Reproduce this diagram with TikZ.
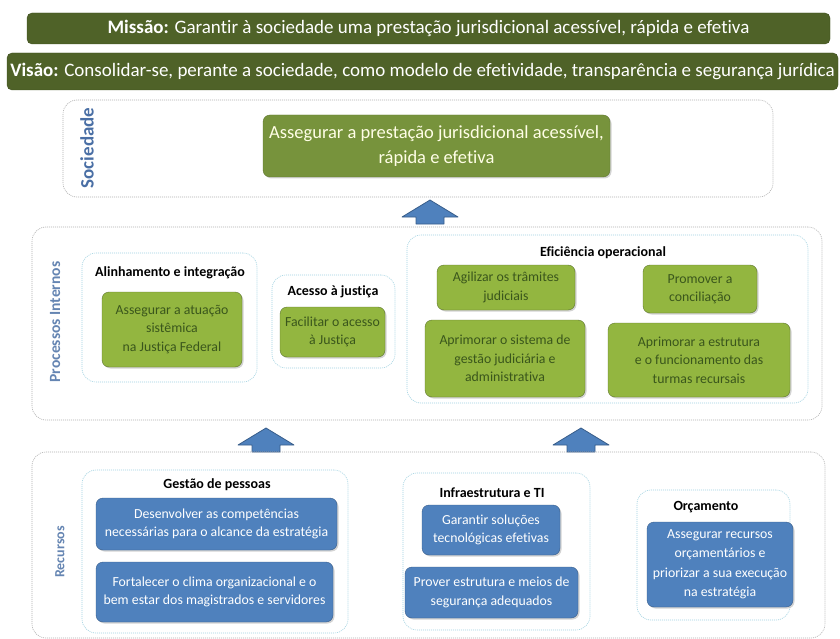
\documentclass[tikz,border=0pt]{standalone}
\usepackage{fontspec}
\setmainfont{Carlito}[Ligatures=NoCommon]
\usetikzlibrary{shadows}
\definecolor{verdeEscuro}{HTML}{4F6228}
\definecolor{verdeMedio}{HTML}{77933C}
\definecolor{verdeClaro}{HTML}{93B640}
\definecolor{textoVerde}{HTML}{3A561C}
\definecolor{azulObj}{HTML}{4F81BD}
\definecolor{azulBorda}{HTML}{385D8A}
\definecolor{azulRotulo}{HTML}{4A6FA5}
\definecolor{cianoGrupo}{HTML}{9CCFDF}
\newcommand{\fonteObj}{\fontsize{13.8}{18.5}\selectfont}
\newcommand{\fonteTitulo}{\fontsize{14}{17}\selectfont\bfseries}
\newcommand{\setaBloco}[3]{\draw[seta] (#2-14,#3+12) coordinate (#1) -- (#2+14,#3+12) -- (#2+14,#3+5) -- (#2+28,#3+5) -- (#2,#3-12) -- (#2-28,#3+5) -- (#2-14,#3+5) -- cycle;}

\begin{document}
\begin{tikzpicture}[x=1pt,y=-1pt]
  \tikzset{banner/.style={fill=verdeEscuro,draw=verdeEscuro!80!black,rounded corners=5pt,text=white,font=\fontsize{19}{22}\selectfont,inner sep=0pt},
    camada/.style={draw=gray!65,dash pattern=on 1pt off 1pt,line width=0.6pt,rounded corners=14pt,inner sep=0pt},
    grupo/.style={draw=cianoGrupo,dash pattern=on 1pt off 1pt,line width=0.6pt,rounded corners=14pt,inner sep=0pt},
    rotulo/.style={rotate=90,text=azulRotulo!85!white,font=\fontsize{15.6}{18}\selectfont\bfseries},
    titulo/.style={font=\fonteTitulo},
    objverde/.style={fill=verdeClaro,draw=verdeMedio!80!black,rounded corners=7pt,text=textoVerde,font=\fonteObj,align=center,inner sep=0pt,drop shadow={opacity=0.35,shadow xshift=1.5pt,shadow yshift=-1.5pt}},
    objazul/.style={fill=azulObj,draw=azulBorda,rounded corners=7pt,text=white,font=\fonteObj,align=center,inner sep=0pt,drop shadow={opacity=0.35,shadow xshift=1.5pt,shadow yshift=-1.5pt}},
    seta/.style={fill=azulObj,draw=azulBorda,line width=0.8pt,line join=round}}
  \useasboundingbox (0,0) rectangle (840,639);

  \node[banner,minimum width=803pt,minimum height=31pt] (missao) at (428.5,28.5) {\textbf{Missão:} Garantir à sociedade uma prestação jurisdicional acessível, rápida e efetiva};
  \node[banner,minimum width=831pt,minimum height=37pt] (visao) at (422.5,71.5) {\textbf{Visão:} Consolidar-se, perante a sociedade, como modelo de efetividade, transparência e segurança jurídica};

  \node[camada,minimum width=710pt,minimum height=97pt] (sociedade) at (418,148.5) {};
  \node[rotulo,text=azulRotulo,font=\fontsize{19}{22}\selectfont\bfseries] (rotSociedade) at (87,148) {Sociedade};
  \node[objverde,fill=verdeMedio,text=white!90!yellow,font=\fontsize{18.5}{25}\selectfont,minimum width=347pt,minimum height=62pt] (objSociedade) at (436.5,146) {Assegurar a prestação jurisdicional acessível,\\rápida e efetiva};

  \setaBloco{seta1}{430}{212}

  \node[camada,minimum width=790pt,minimum height=193pt] (processos) at (427,323.5) {};
  \node[rotulo] (rotProcessos) at (55,322) {Processos Internos};

  \node[grupo,minimum width=175pt,minimum height=129pt] (alinhamento) at (169.5,317.5) {};
  \node[titulo] (titAlinhamento) at (170,273) {Alinhamento e integração};
  \node[objverde,minimum width=140pt,minimum height=75pt] (objAtuacao) at (172,329.5) {Assegurar a atuação\\sistêmica\\na Justiça Federal};

  \node[grupo,minimum width=123pt,minimum height=93pt] (acesso) at (333.5,321.5) {};
  \node[titulo] (titAcesso) at (333,292) {Acesso à justiça};
  \node[objverde,minimum width=105pt,minimum height=50pt] (objAcesso) at (332.5,332) {Facilitar o acesso\\à Justiça};

  \node[grupo,minimum width=401pt,minimum height=168pt] (eficiencia) at (607.5,319) {};
  \node[titulo] (titEficiencia) at (603,253) {Eficiência operacional};
  \node[objverde,minimum width=138pt,minimum height=45pt] (objAgilizar) at (506,287.5) {Agilizar os trâmites\\judiciais};
  \node[objverde,minimum width=114pt,minimum height=48pt] (objPromover) at (700,289) {Promover a\\conciliação};
  \node[objverde,minimum width=160pt,minimum height=77pt] (objSistema) at (505,358.5) {Aprimorar o sistema de\\gestão judiciária e\\administrativa};
  \node[objverde,minimum width=182pt,minimum height=74pt] (objTurmas) at (699,360) {Aprimorar a estrutura\\e o funcionamento das\\turmas recursais};

  \setaBloco{seta2}{266}{440}
  \setaBloco{seta3}{581}{440}

  \node[camada,minimum width=793pt,minimum height=186pt] (recursos) at (428.5,545) {};
  \node[rotulo,font=\fontsize{14}{17}\selectfont\bfseries] (rotRecursos) at (60,552) {Recursos};

  \node[grupo,minimum width=266pt,minimum height=163pt] (gestao) at (215,551.5) {};
  \node[titulo] (titGestao) at (217,485) {Gestão de pessoas};
  \node[objazul,minimum width=241pt,minimum height=52pt] (objCompetencias) at (216.5,524) {Desenvolver as competências\\necessárias para o alcance da estratégia};
  \node[objazul,minimum width=237pt,minimum height=60pt] (objClima) at (214.5,592) {Fortalecer o clima organizacional e o\\bem estar dos magistrados e servidores};

  \node[grupo,minimum width=187pt,minimum height=157pt] (infra) at (496.5,551.5) {};
  \node[titulo] (titInfra) at (492,493) {Infraestrutura e TI};
  \node[objazul,minimum width=138pt,minimum height=50pt] (objSolucoes) at (491,530) {Garantir soluções\\tecnológicas efetivas};
  \node[objazul,minimum width=173pt,minimum height=51pt] (objSeguranca) at (491.5,592.5) {Prover estrutura e meios de\\segurança adequados};

  \node[grupo,minimum width=153pt,minimum height=130pt] (orcamento) at (713.5,555) {};
  \node[titulo] (titOrcamento) at (706,507) {Orçamento};
  \node[objazul,minimum width=146pt,minimum height=85pt,font=\fontsize{13.8}{19.5}\selectfont] (objRecursos) at (720,564.5) {Assegurar recursos\\orçamentários e\\priorizar a sua execução\\na estratégia};
\end{tikzpicture}
\end{document}
